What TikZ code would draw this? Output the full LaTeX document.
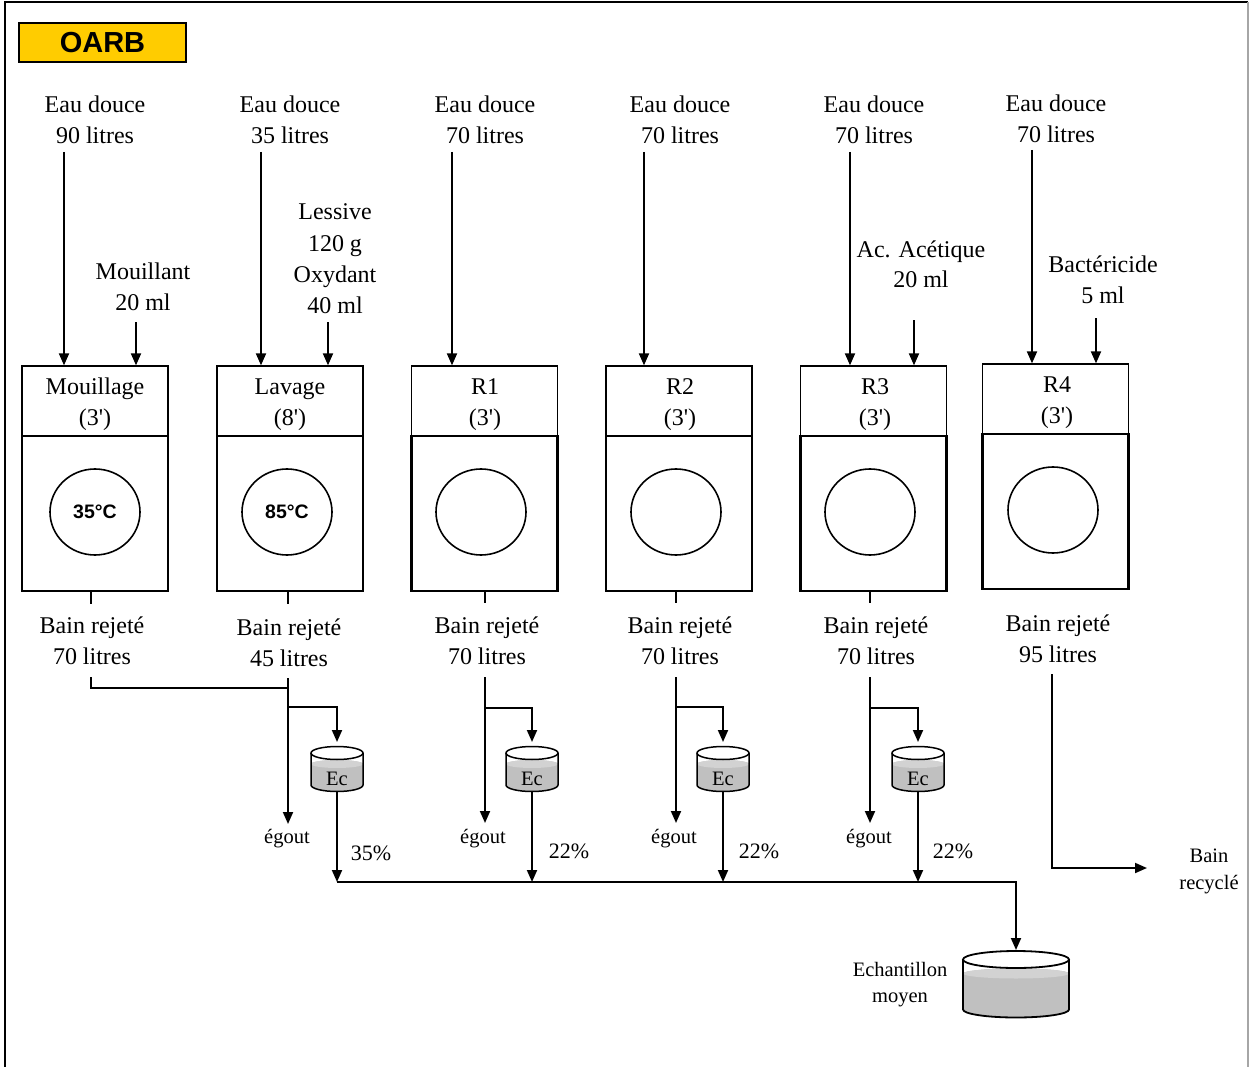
\documentclass[tikz,border=0pt]{standalone}
\usepackage{fontspec}
\setmainfont{Liberation Serif}
\setsansfont{Liberation Sans}
\usetikzlibrary{arrows.meta,shapes.geometric}
\definecolor{oarbyellow}{RGB}{255,204,0}
\definecolor{liq}{RGB}{192,192,192}
\definecolor{liqtop}{RGB}{210,210,210}
\newcommand{\pr}{\textquotesingle}
\begin{document}
\begin{tikzpicture}[x=1pt,y=-1pt,
  every node/.style={inner sep=0pt},
  lab/.style={font=\fontsize{24}{31}\selectfont, align=center, anchor=base},
  sm/.style={font=\fontsize{20.5}{27}\selectfont, align=center, anchor=base},
  pct/.style={font=\fontsize{22}{27}\selectfont, anchor=base},
  flow/.style={line width=1.9pt, -{Triangle[length=12pt,width=10pt]}},
  pipe/.style={line width=1.9pt},
  head/.style={draw, line width=1.3pt, minimum width=146pt, minimum height=70pt},
  body/.style={draw, line width=2.2pt, minimum width=146pt, minimum height=155pt},
  drum/.style={draw, line width=1.6pt, ellipse, minimum width=90pt, minimum height=86pt,
    font=\sffamily\bfseries\fontsize{19.5}{20}\selectfont},
  ecyl/.pic={
    \fill[liq] (-26,11) -- (-26,32) arc[start angle=180,end angle=0,x radius=26,y radius=6.5]
      -- (26,11) arc[start angle=0,end angle=-180,x radius=26,y radius=4] -- cycle;
    \fill[liqtop] (0,11) ellipse [x radius=26,y radius=4];
    \draw[line width=1.5pt,fill=white] (0,0) ellipse [x radius=26,y radius=6.5];
    \draw[line width=1.5pt] (-26,0) -- (-26,32) arc[start angle=180,end angle=0,x radius=26,y radius=6.5] -- (26,0);
  },
  bigcyl/.pic={
    \fill[liq] (-53,14) -- (-53,50) arc[start angle=180,end angle=0,x radius=53,y radius=8]
      -- (53,14) arc[start angle=0,end angle=-180,x radius=53,y radius=5] -- cycle;
    \fill[liqtop] (0,14) ellipse [x radius=53,y radius=5];
    \draw[line width=1.8pt,fill=white] (0,0) ellipse [x radius=53,y radius=8.5];
    \draw[line width=1.8pt] (-53,0) -- (-53,50) arc[start angle=180,end angle=0,x radius=53,y radius=8] -- (53,0);
  }
]
\useasboundingbox (0,0) rectangle (1250,1067);
% frame
\draw[line width=1.8pt] (5,1067) -- (5,2) -- (1248,2);
\draw[gray!70,line width=1.2pt] (1248,2) -- (1248,1067);

\node[draw, line width=2.4pt, fill=oarbyellow, minimum width=167pt, minimum height=39pt,
  font=\sffamily\bfseries\fontsize{29}{30}\selectfont] (oarb) at (102.5,42.5) {OARB};

% ---------- machines ----------
\node[head] (h1) at (95,401) {};
\node[body] (b1) at (95,513.5) {};
\node[drum] (d1) at (95,512) {35°C};
\node[lab] (n1) at (95,425) {Mouillage\\(3\pr)};

\node[head] (h2) at (290,401) {};
\node[body] (b2) at (290,513.5) {};
\node[drum] (d2) at (287,512) {85°C};
\node[lab] (n2) at (290,425) {Lavage\\(8\pr)};

\node[head] (h3) at (484.5,401) {};
\node[body] (b3) at (484.5,513.5) {};
\node[drum] (d3) at (481,512) {};
\node[lab] (n3) at (485,425) {R1\\(3\pr)};

\node[head] (h4) at (679,401) {};
\node[body] (b4) at (679,513.5) {};
\node[drum] (d4) at (676,512) {};
\node[lab] (n4) at (680,425) {R2\\(3\pr)};

\node[head] (h5) at (873.5,401) {};
\node[body] (b5) at (873.5,513.5) {};
\node[drum] (d5) at (870,512) {};
\node[lab] (n5) at (875,425) {R3\\(3\pr)};

\node[head] (h6) at (1055.5,399) {};
\node[body] (b6) at (1055.5,511.5) {};
\node[drum] (d6) at (1053,510) {};
\node[lab] (n6) at (1057,423) {R4\\(3\pr)};

% ---------- inputs ----------
\node[lab] (in1) at (95,144) {Eau douce\\90 litres};
\node[lab] (in2) at (290,144) {Eau douce\\35 litres};
\node[lab] (in3) at (485,144) {Eau douce\\70 litres};
\node[lab] (in4) at (680,144) {Eau douce\\70 litres};
\node[lab] (in5) at (874,144) {Eau douce\\70 litres};
\node[lab] (in6) at (1056,143) {Eau douce\\70 litres};

\coordinate (w1) at (64,152);
\coordinate (w2) at (261,152);
\coordinate (w3) at (452,152);
\coordinate (w4) at (644,152);
\coordinate (w5) at (850,152);
\coordinate (w6) at (1032,150);
\foreach \i in {1,...,6}{\draw[flow] (w\i) -- (w\i |- h\i.north);}

\node[lab] (ad1) at (143,310) {Mouillant\\20 ml};
\node[lab] (ad2) at (335,313) {Lessive\\120 g\\Oxydant\\40 ml};
\node[lab] (ad5) at (921,288) {Ac. Acétique\\20 ml};
\node[lab] (ad6) at (1103,304) {Bactéricide\\5 ml};

\coordinate (v1) at (136,322);
\coordinate (v2) at (328,322);
\coordinate (v5) at (914,320);
\coordinate (v6) at (1096,318);
\foreach \i in {1,2,5,6}{\draw[flow] (v\i) -- (v\i |- h\i.north);}

% ---------- outlets ----------
\node[lab] (o1) at (92,664) {Bain rejeté\\70 litres};
\node[lab] (o2) at (289,666) {Bain rejeté\\45 litres};
\node[lab] (o3) at (487,664) {Bain rejeté\\70 litres};
\node[lab] (o4) at (680,664) {Bain rejeté\\70 litres};
\node[lab] (o5) at (876,664) {Bain rejeté\\70 litres};
\node[lab] (o6) at (1058,662) {Bain rejeté\\95 litres};

\coordinate (t1) at (91,604);
\coordinate (t2) at (288,604);
\coordinate (t3) at (485,603);
\coordinate (t4) at (676,603);
\coordinate (t5) at (870,603);
\foreach \i in {1,...,5}{\draw[pipe] (t\i |- b\i.south) -- (t\i);}

% column 1 joins column 2
\coordinate (p1) at (91,677);
\coordinate (j1) at (288,688);
\draw[pipe] (p1) |- (j1);

% sewer lines
\coordinate (p2) at (288,678);
\coordinate (p3) at (485,677);
\coordinate (p4) at (676,677);
\coordinate (p5) at (870,677);
\coordinate (s2) at (288,824);
\coordinate (s3) at (485,823);
\coordinate (s4) at (676,823);
\coordinate (s5) at (870,823);
\foreach \i in {2,...,5}{\draw[flow] (p\i) -- (s\i);}

\node[sm] (eg2) at (287,843) {égout};
\node[sm] (eg3) at (483,843) {égout};
\node[sm] (eg4) at (674,843) {égout};
\node[sm] (eg5) at (869,843) {égout};

% sampling cylinders
\pic at (337,753) {ecyl};
\pic at (532,753) {ecyl};
\pic at (723,753) {ecyl};
\pic at (918,753) {ecyl};
\node[sm] (ec2) at (337,785) {Ec};
\node[sm] (ec3) at (532,785) {Ec};
\node[sm] (ec4) at (723,785) {Ec};
\node[sm] (ec5) at (918,785) {Ec};

\coordinate (k2) at (288,707);
\coordinate (k3) at (485,708);
\coordinate (k4) at (676,707);
\coordinate (k5) at (870,708);
\coordinate (c2) at (337,742);
\coordinate (c3) at (532,742);
\coordinate (c4) at (723,742);
\coordinate (c5) at (918,742);
\foreach \i in {2,...,5}{\draw[flow] (k\i) -| (c\i);}

\coordinate (eb2) at (337,791);
\coordinate (eb3) at (532,791);
\coordinate (eb4) at (723,791);
\coordinate (eb5) at (918,791);
\coordinate (hb2) at (337,882);
\coordinate (hb3) at (532,882);
\coordinate (hb4) at (723,882);
\coordinate (hb5) at (918,882);
\foreach \i in {2,...,5}{\draw[flow] (eb\i) -- (hb\i);}

\node[pct] (q2) at (371,860) {35\%};
\node[pct] (q3) at (569,858) {22\%};
\node[pct] (q4) at (759,858) {22\%};
\node[pct] (q5) at (953,858) {22\%};

% average sample
\pic at (1016,959.5) {bigcyl};
\coordinate (big) at (1016,950);
\draw[flow] (hb2) -| (big);
\node[sm, font=\fontsize{20.5}{26}\selectfont] (ech) at (900,1002) {Echantillon\\moyen};

% recycled bath
\coordinate (p6) at (1052,674);
\coordinate (rec) at (1147,868);
\draw[flow] (p6) |- (rec);
\node[sm] (brec) at (1209,889) {Bain\\recyclé};
\end{tikzpicture}
\end{document}
